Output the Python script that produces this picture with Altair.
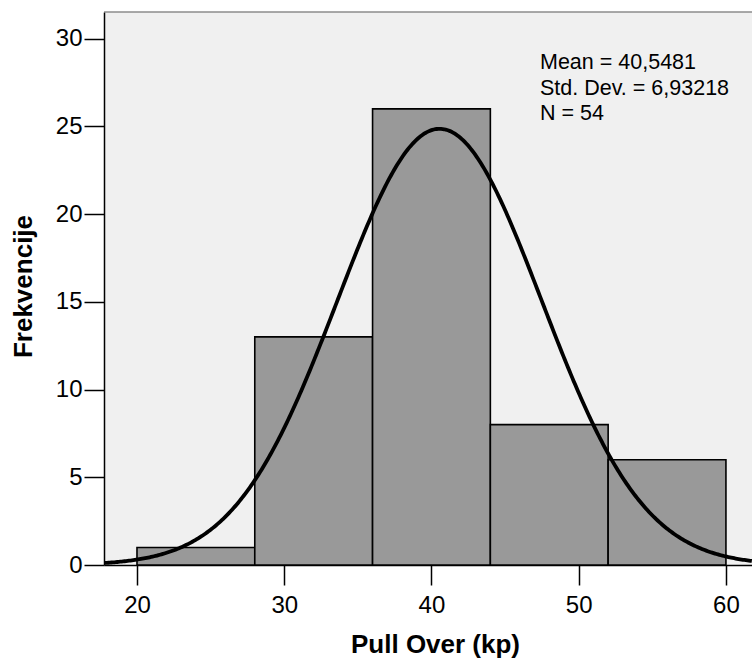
import altair as alt
import pandas as pd

# ---- data ----
bin_start = [20, 28, 36, 44, 52]
bin_end = [28, 36, 44, 52, 60]
counts = [1, 13, 26, 8, 6]
mean = 40.5481
sd = 6.93218
n = 54
x_ticks = [20, 30, 40, 50, 60]
y_ticks = [0, 5, 10, 15, 20, 25, 30]

bins = pd.DataFrame({"start": bin_start, "end": bin_end, "count": counts})
bw = bin_end[0] - bin_start[0]

FONT = "Liberation Sans"
X_DOM = [17.76, 61.77]
Y_DOM = [0, 31.52]
W, H = 648, 553

xs = alt.Scale(domain=X_DOM, nice=False, zero=False)
ys = alt.Scale(domain=Y_DOM, nice=False)

bars = alt.Chart(bins).mark_rect(fill="#999999", stroke="black", strokeWidth=1.6).encode(
    x=alt.X("start:Q", scale=xs,
            axis=alt.Axis(values=x_ticks, title="Pull Over (kp)", tickSize=20,
                          labelPadding=8, titleX=331, titleY=87,
                          titleBaseline="alphabetic")),
    x2="end:Q",
    y=alt.Y("count:Q", scale=ys,
            axis=alt.Axis(values=y_ticks, title="Frekvencije", tickSize=20,
                          labelPadding=2, titleX=-81, titleY=274,
                          titleBaseline="middle")),
    y2=alt.datum(0),
)

curve = (
    alt.Chart(alt.sequence(X_DOM[0], X_DOM[1] + 0.05, 0.1, as_="x"))
    .transform_calculate(
        y=f"{n * bw}/({sd}*sqrt(2*PI))*exp(-0.5*pow((datum.x-{mean})/{sd},2))"
    )
    .mark_line(color="black", strokeWidth=3.8, clip=True)
    .encode(x=alt.X("x:Q", scale=xs), y=alt.Y("y:Q", scale=ys))
)

stats = [
    "Mean = " + f"{mean:.4f}".replace(".", ","),
    "Std. Dev. = " + f"{sd:.5f}".replace(".", ","),
    f"N = {n}",
]
label = alt.Chart(pd.DataFrame({"a": [0]})).mark_text(
    align="left", baseline="alphabetic", fontSize=21.5, font=FONT,
    color="black", lineHeight=25.5
).encode(x=alt.value(436), y=alt.value(57), text=alt.value(stats))

top_border = alt.Chart(pd.DataFrame({"a": [0]})).mark_rule(
    color="#555555", strokeWidth=1.2
).encode(x=alt.value(0), x2=alt.value(W), y=alt.value(0))

chart = (
    alt.layer(bars, curve, label, top_border)
    .properties(
        width=W, height=H,
        autosize=alt.AutoSizeParams(type="none"),
        padding={"left": 104, "top": 12, "right": 0, "bottom": 94},
        background="white",
    )
    .configure_view(fill="#f0f0f0", stroke="transparent")
    .configure_axis(
        grid=False, domainColor="black", domainWidth=1.5, tickColor="black",
        tickWidth=1.5, labelColor="black", titleColor="black",
        labelFont=FONT, titleFont=FONT, labelFontSize=24, titleFontSize=26,
        titleFontWeight="bold",
    )
)

chart.save("out.html", embed_options={"renderer": "svg", "actions": False})
